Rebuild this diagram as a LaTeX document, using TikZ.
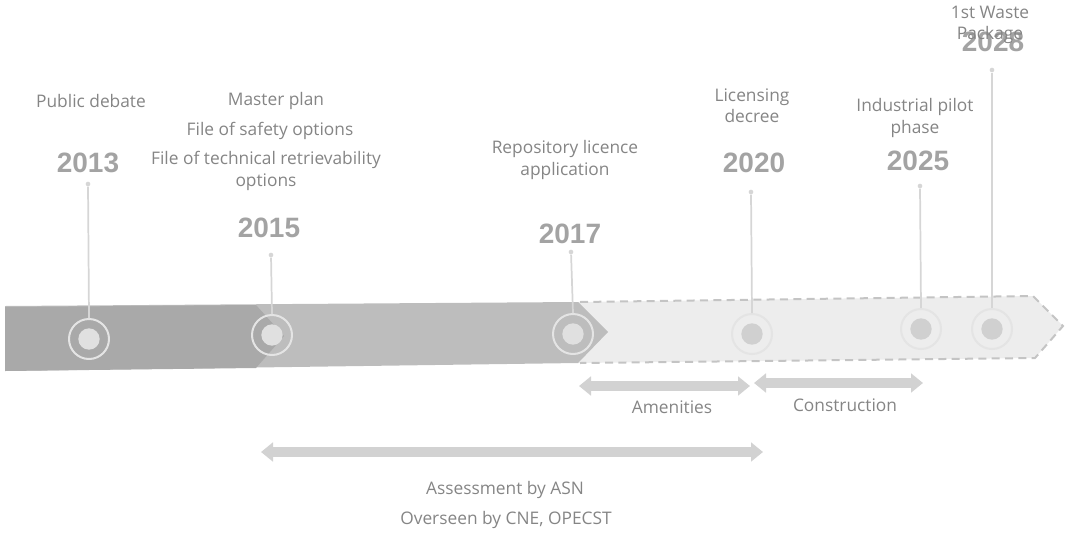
\documentclass[tikz,border=0pt]{standalone}
\usepackage{fontspec}
\usetikzlibrary{arrows.meta}
\newfontfamily\evfont{Open Sans}
\newfontfamily\yrfont{Liberation Sans}
\definecolor{banddark}{HTML}{A9A9A9}
\definecolor{bandlight}{HTML}{BDBDBD}
\definecolor{bandfuture}{HTML}{EDEDED}
\definecolor{dashgrey}{HTML}{C4C4C4}
\definecolor{txtgrey}{HTML}{858585}
\definecolor{yrgrey}{HTML}{A3A3A3}
\definecolor{ringgrey}{HTML}{E4E4E4}
\definecolor{dotgrey}{HTML}{E0E0E0}
\definecolor{dotfuture}{HTML}{D0D0D0}
\definecolor{stemgrey}{HTML}{D6D6D6}
\definecolor{arrowgrey}{HTML}{D2D2D2}

\begin{document}
\begin{tikzpicture}[x=0.75pt,y=-0.75pt]
\tikzset{evtext/.style = {font=\evfont\fontsize{13}{16}\selectfont, text=txtgrey, align=center, inner sep=0pt}}
\tikzset{yrtext/.style = {font=\yrfont\bfseries\fontsize{21}{24}\selectfont, text=yrgrey, inner sep=0pt}}
\tikzset{ringnode/.style = {shape=circle, draw=ringgrey, line width=1.5pt, minimum size=30pt, inner sep=0pt}}
\tikzset{dotnode/.style = {shape=circle, fill=dotgrey, minimum size=16pt, inner sep=0pt}}
\tikzset{knob/.style = {shape=circle, fill=stemgrey, minimum size=3.5pt, inner sep=0pt}}
\tikzset{stemline/.style = {draw=stemgrey, line width=1.3pt}}
\tikzset{spanarrow/.style = {draw=arrowgrey, line width=7pt, {Triangle[width=14pt,length=9pt]}-{Triangle[width=14pt,length=9pt]}}}

\useasboundingbox (0,0) rectangle (1067,532);

% timeline band
\fill[bandfuture] (578,302) -- (1033,296) -- (1063,326) -- (1035,358) -- (578,363) -- cycle;
\fill[bandlight] (5,306) -- (578,302) -- (608,332) -- (578,363) -- (5,371) -- cycle;
\fill[banddark] (5,307) -- (256,305) -- (284,336) -- (256,368) -- (5,371) -- cycle;
\draw[dashgrey, line width=1.5pt, dash pattern=on 6pt off 4pt]
  (580,302) -- (1033,296) -- (1063,326) -- (1035,358) -- (580,363);

% milestones
\node[ringnode] (c13) at (89,339) {};
\node[ringnode] (c15) at (272,335) {};
\node[ringnode] (c17) at (573,334) {};
\node[ringnode] (c20) at (752,334) {};
\node[ringnode] (c25) at (921,329) {};
\node[ringnode] (c28) at (992,329) {};
\node[dotnode] at (c13) {};
\node[dotnode] at (c15) {};
\node[dotnode] at (c17) {};
\node[dotnode, fill=dotfuture] at (c20) {};
\node[dotnode, fill=dotfuture] at (c25) {};
\node[dotnode, fill=dotfuture] at (c28) {};

\node[knob] (k13) at (88,184) {};
\node[knob] (k15) at (271,255) {};
\node[knob] (k17) at (571,252) {};
\node[knob] (k20) at (751,192) {};
\node[knob] (k25) at (920,186) {};
\node[knob] (k28) at (992,70) {};

\draw[stemline] (k13) to (c13.north);
\draw[stemline] (k15) to (c15.north);
\draw[stemline] (k17) to (c17.north);
\draw[stemline] (k20) to (c20.north);
\draw[stemline] (k25) to (c25.north);
\draw[stemline] (k28) to (c28.north);

% years
\node[yrtext] (y13) at (88,163) {2013};
\node[yrtext] (y15) at (269,228) {2015};
\node[yrtext] (y17) at (570,234) {2017};
\node[yrtext] (y20) at (754,163) {2020};
\node[yrtext] (y25) at (918,161) {2025};
\node[yrtext] (y28) at (993,42) {2028};

% events
\node[evtext] (e13) at (91,101) {Public debate};
\node[evtext] (e15a) at (276,101) {Master plan};
\node[evtext] (e15b) at (270,131) {File of safety options};
\node[evtext] (e15c) at (266,171) {File of technical retrievability\\options};
\node[evtext] (e17) at (565,160) {Repository licence\\application};
\node[evtext] (e20) at (752,106) {Licensing\\decree};
\node[evtext] (e25) at (915,118) {Industrial pilot\\phase};
\node[evtext] (e28) at (990,25) {1st Waste\\Package};

% periods
\coordinate (am1) at (579,386);
\coordinate (am2) at (750,386);
\coordinate (co1) at (754,383);
\coordinate (co2) at (923,383);
\coordinate (as1) at (261,452);
\coordinate (as2) at (763,452);
\draw[spanarrow] (am1) to (am2);
\draw[spanarrow] (co1) to (co2);
\draw[spanarrow] (as1) to (as2);

\node[evtext] (pam) at (672,407) {Amenities};
\node[evtext] (pco) at (845,405) {Construction};
\node[evtext] (pas) at (505,490) {Assessment by ASN};
\node[evtext] (pov) at (506,520) {Overseen by CNE, OPECST};
\end{tikzpicture}
\end{document}
